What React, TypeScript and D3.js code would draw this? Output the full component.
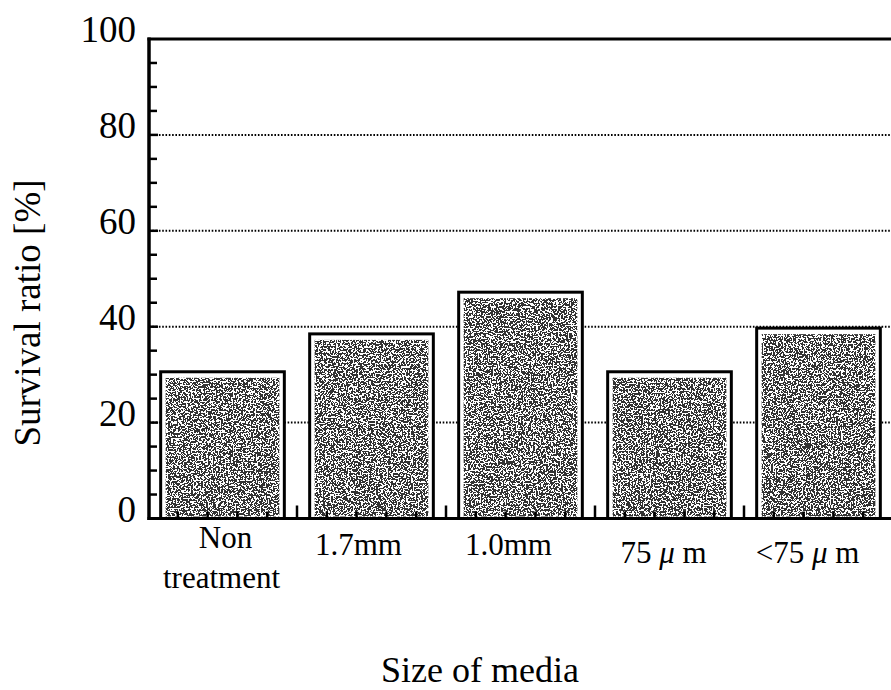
import * as d3 from "d3";

const categories = ["Non treatment", "1.7mm", "1.0mm", "75 μm", "<75 μm"];
const survival = [30.6, 38.5, 47.2, 30.6, 39.7];
const tickLabelLines = [["Non", "treatment"], ["1.7mm"], ["1.0mm"], ["75 μm"], ["<75 μm"]];
const yMajorTicks = [0, 20, 40, 60, 80, 100];

const width = 891;
const height = 690;
const marginLeft = 149;
const marginTop = 39;
const plotBottom = 518.5;
const font = "Liberation Serif, Tinos, DejaVu Serif, serif";

// label nudges as in the original scan (px)
const labelDx = [3, -13, -12, -6, -11];
const labelDy = [29.5, 36.5, 36.5, 44.5, 44.5];

function TickLabel({ text }: { text: string }) {
  // italic micro sign, like the original
  const parts = text.split("μ");
  if (parts.length === 1) return <>{text}</>;
  return (
    <>
      {parts[0]}
      <tspan style={{ fontStyle: "italic" }}>μ</tspan>
      {" " + parts[1].trim()}
    </>
  );
}

export default function App() {
  const x = d3
    .scaleBand<string>()
    .domain(categories)
    .range([marginLeft - 1, marginLeft - 1 + 149 * 5])
    .paddingInner(0.17)
    .paddingOuter(0.085);
  const step = x.step();
  const y = d3.scaleLinear().domain([0, 100]).range([plotBottom, marginTop]);

  const minorY = y.ticks(20).filter((t) => t % 20 !== 0);
  const catStart = (i: number) => x(categories[i])! - x.paddingOuter() * step;
  const txt = { fontFamily: font };

  return (
    <svg
      width={width}
      height={height}
      style={{ position: "absolute", left: 0, top: 0, background: "#fff", fontFamily: font }}
    >
      <defs>
        <filter id="speckle" x="0" y="0" width="100%" height="100%" colorInterpolationFilters="sRGB">
          <feTurbulence type="fractalNoise" baseFrequency="0.6" numOctaves="4" seed="11" result="n" />
          <feColorMatrix
            in="n"
            type="matrix"
            values="0 0 0 0 0  0 0 0 0 0  0 0 0 0 0  -3.2 0 0 0 2.15"
            result="a"
          />
          <feComponentTransfer in="a" result="t">
            <feFuncA type="discrete" tableValues="0 0.8" />
          </feComponentTransfer>
          <feComposite in="t" in2="SourceGraphic" operator="in" />
        </filter>
      </defs>

      {/* dotted gridlines */}
      {yMajorTicks
        .filter((t) => t > 0 && t < 100)
        .map((t) => (
          <g key={t}>
            <line x1={marginLeft} x2={width} y1={y(t)} y2={y(t)} stroke="#000" strokeWidth={2} strokeDasharray="1.6 1.7" />
            <line x1={marginLeft} x2={marginLeft + 9} y1={y(t)} y2={y(t)} stroke="#000" strokeWidth={2.5} />
          </g>
        ))}

      {/* bars */}
      {categories.map((c, i) => {
        const bx = x(c)!;
        const by = y(survival[i]);
        const bw = x.bandwidth();
        const bh = plotBottom - by;
        return (
          <g key={c}>
            <rect x={bx} y={by} width={bw} height={bh} fill="#fff" stroke="#000" strokeWidth={3} />
            <rect x={bx + 5} y={by + 6} width={bw - 10} height={bh - 8} fill="#fff" filter="url(#speckle)" />
          </g>
        );
      })}

      {/* y minor ticks */}
      {minorY.map((t) => (
        <line key={t} x1={marginLeft} x2={marginLeft + 8} y1={y(t)} y2={y(t)} stroke="#000" strokeWidth={2.5} />
      ))}

      {/* x ticks: category boundaries and fifths */}
      {categories.map((c, i) => (
        <g key={c}>
          {[1, 2, 3, 4].map((k) => {
            const tx = catStart(i) + (k * step) / 5;
            return <line key={k} x1={tx} x2={tx} y1={plotBottom} y2={plotBottom - 7} stroke="#000" strokeWidth={2.5} />;
          })}
          <line
            x1={catStart(i) + step}
            x2={catStart(i) + step}
            y1={plotBottom}
            y2={plotBottom - 13}
            stroke="#000"
            strokeWidth={2.5}
          />
        </g>
      ))}

      {/* frame */}
      <line x1={marginLeft} x2={marginLeft} y1={marginTop - 1.5} y2={plotBottom + 1.5} stroke="#000" strokeWidth={3.5} />
      <line x1={marginLeft - 1.5} x2={width} y1={plotBottom} y2={plotBottom} stroke="#000" strokeWidth={3} />
      <line x1={marginLeft - 1.5} x2={width} y1={marginTop} y2={marginTop} stroke="#000" strokeWidth={3} />

      {/* y tick labels */}
      {yMajorTicks.map((t) => (
        <text key={t} x={136} y={y(t) + 3} textAnchor="end" fontSize={37} style={txt}>
          {t}
        </text>
      ))}

      {/* x tick labels */}
      {categories.map((c, i) => {
        const cx = x(c)! + x.bandwidth() / 2;
        return (
          <text key={c} x={cx + labelDx[i]} y={plotBottom + labelDy[i]} textAnchor="middle" fontSize={31} style={txt}>
            {tickLabelLines[i].map((line, j) => (
              <tspan key={j} x={cx + labelDx[i] - (j > 0 ? 4 : 0)} dy={j === 0 ? 0 : 40}>
                <TickLabel text={line} />
              </tspan>
            ))}
          </text>
        );
      })}

      {/* axis titles */}
      <text x={480} y={682} textAnchor="middle" fontSize={36} style={txt}>
        Size of media
      </text>
      <text transform="translate(40,313) rotate(-90)" textAnchor="middle" fontSize={37} style={txt}>
        Survival ratio [%]
      </text>
    </svg>
  );
}
